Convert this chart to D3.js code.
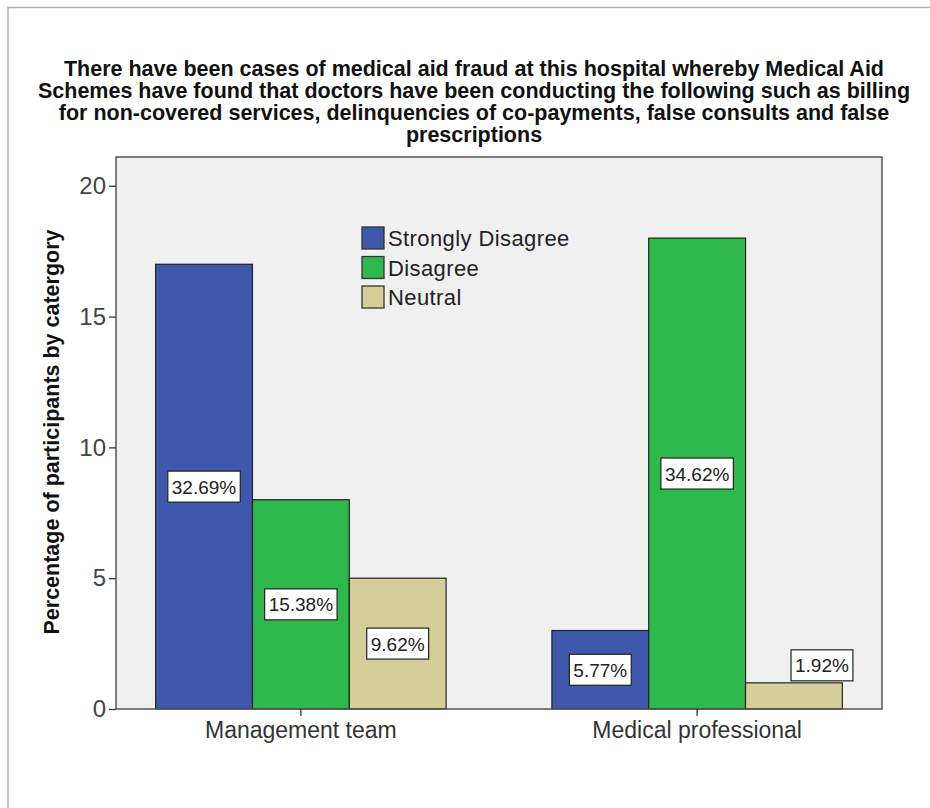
<!DOCTYPE html>
<html>
<head>
<meta charset="utf-8">
<script src="https://cdn.jsdelivr.net/npm/d3@7"></script>
<style>
  body { margin: 0; background: #fff; }
  svg { display: block; font-family: "Liberation Sans", Arial, sans-serif; }
</style>
</head>
<body>
<div id="chart"></div>
<script>
// Data
const categories = ["Management team", "Medical professional"];
const responses = ["Strongly Disagree", "Disagree", "Neutral"];
const counts = {
    "Strongly Disagree": [17, 3],
    "Disagree": [8, 18],
    "Neutral": [5, 1]
};
const percentLabels = {
    "Strongly Disagree": ["32.69%", "5.77%"],
    "Disagree": ["15.38%", "34.62%"],
    "Neutral": ["9.62%", "1.92%"]
};
const yTicks = [0, 5, 10, 15, 20];
const titleLines = [
    "There have been cases of medical aid fraud at this hospital whereby Medical Aid",
    "Schemes have found that doctors have been conducting the following such as billing",
    "for non-covered services, delinquencies of co-payments, false consults and false",
    "prescriptions"
];
const yLabel = "Percentage of participants by catergory";

// Configuration
const width = 930;
const height = 808;
const plot = { left: 116, right: 882, top: 157, bottom: 709 };
const colors = {
    "Strongly Disagree": "#3e58ac",
    "Disagree": "#2fb84b",
    "Neutral": "#d4cf98"
};

const svg = d3.select("#chart")
    .append("svg")
    .attr("width", width)
    .attr("height", height);

// outer frame (top + left only visible)
svg.append("path")
    .attr("d", `M8,${height} V7.5 H${width}`)
    .attr("fill", "none")
    .attr("stroke", "#b0b0b0")
    .attr("stroke-width", 1.5);

// Title
svg.append("text")
    .attr("text-anchor", "middle")
    .style("font-weight", "bold")
    .style("font-size", "21.5px")
    .attr("fill", "#111")
    .selectAll("tspan")
    .data(titleLines)
    .join("tspan")
    .attr("x", 474)
    .attr("y", (d, i) => 76 + i * 22)
    .text(d => d);

// Scales
const x0 = d3.scaleBand()
    .domain(categories)
    .range([plot.left, plot.right])
    .paddingInner(0.267)
    .paddingOuter(0.1);

const x1 = d3.scaleBand()
    .domain(responses)
    .range([0, x0.bandwidth()]);

const y = d3.scaleLinear()
    .domain([0, 21.1])
    .range([plot.bottom, plot.top]);

// Plot background
svg.append("rect")
    .attr("x", plot.left)
    .attr("y", plot.top)
    .attr("width", plot.right - plot.left)
    .attr("height", plot.bottom - plot.top)
    .attr("fill", "#f0f0f0");

// Bars
const groups = svg.append("g")
    .selectAll("g")
    .data(categories)
    .join("g")
    .attr("transform", d => `translate(${x0(d)},0)`);

groups.selectAll("rect")
    .data((cat, ci) => responses.map(r => ({ r, v: counts[r][ci], label: percentLabels[r][ci] })))
    .join("rect")
    .attr("x", d => x1(d.r))
    .attr("y", d => y(d.v))
    .attr("width", x1.bandwidth())
    .attr("height", d => y(0) - y(d.v))
    .attr("fill", d => colors[d.r])
    .attr("stroke", "#222")
    .attr("stroke-width", 1.2);

// Value labels (white boxes)
const boxH = 31;
groups.selectAll("g.val")
    .data((cat, ci) => responses.map(r => ({ r, v: counts[r][ci], label: percentLabels[r][ci] })))
    .join("g")
    .attr("class", "val")
    .each(function (d) {
        const g = d3.select(this);
        const barH = y(0) - y(d.v);
        const inside = barH > boxH + 10;
        const cx = x1(d.r) + x1.bandwidth() / 2 + (inside ? 0 : 28);
        const cy = inside ? y(d.v / 2) : y(d.v) - 2 - boxH / 2;
        const rect = g.append("rect")
            .attr("fill", "#fff")
            .attr("stroke", "#222")
            .attr("stroke-width", 1.2);
        const t = g.append("text")
            .attr("x", cx)
            .attr("y", cy + 7)
            .attr("text-anchor", "middle")
            .style("font-size", "19px")
            .attr("fill", "#222")
            .text(d.label);
        const w = t.node().getComputedTextLength() + 8;
        rect.attr("x", cx - w / 2)
            .attr("y", cy - boxH / 2)
            .attr("width", w)
            .attr("height", boxH);
    });

// Plot frame
svg.append("rect")
    .attr("x", plot.left)
    .attr("y", plot.top)
    .attr("width", plot.right - plot.left)
    .attr("height", plot.bottom - plot.top)
    .attr("fill", "none")
    .attr("stroke", "#555")
    .attr("stroke-width", 1.5);

// Y axis
const yAxis = svg.append("g")
    .attr("transform", `translate(${plot.left},0)`)
    .call(d3.axisLeft(y).tickValues(yTicks).tickSize(7).tickPadding(3));
yAxis.select(".domain").remove();
yAxis.selectAll("line").attr("stroke", "#333").attr("stroke-width", 1.3);
yAxis.selectAll("text")
    .style("font-size", "24px")
    .style("font-family", "'Liberation Sans', Arial, sans-serif")
    .attr("fill", "#444");

// X axis
const xAxis = svg.append("g")
    .attr("transform", `translate(0,${plot.bottom})`)
    .call(d3.axisBottom(x0).tickSize(7).tickPadding(6));
xAxis.select(".domain").remove();
xAxis.selectAll("line").attr("stroke", "#333").attr("stroke-width", 1.3);
xAxis.selectAll("text")
    .style("font-size", "23px")
    .style("font-family", "'Liberation Sans', Arial, sans-serif")
    .attr("fill", "#333");

// Y label
svg.append("text")
    .attr("transform", `translate(59,${(plot.top + plot.bottom) / 2 - 1}) rotate(-90)`)
    .attr("text-anchor", "middle")
    .style("font-weight", "bold")
    .style("font-size", "21.5px")
    .attr("fill", "#111")
    .text(yLabel);

// Legend
const legend = svg.append("g")
    .attr("transform", "translate(362,227)")
    .selectAll("g")
    .data(responses)
    .join("g")
    .attr("transform", (d, i) => `translate(0,${i * 29.5})`);

legend.append("rect")
    .attr("width", 22)
    .attr("height", 22)
    .attr("fill", d => colors[d])
    .attr("stroke", "#333")
    .attr("stroke-width", 1.3);

legend.append("text")
    .attr("x", 26)
    .attr("y", 19)
    .style("font-size", "22px")
    .style("letter-spacing", "0.4px")
    .attr("fill", "#222")
    .text(d => d);
</script>
</body>
</html>
